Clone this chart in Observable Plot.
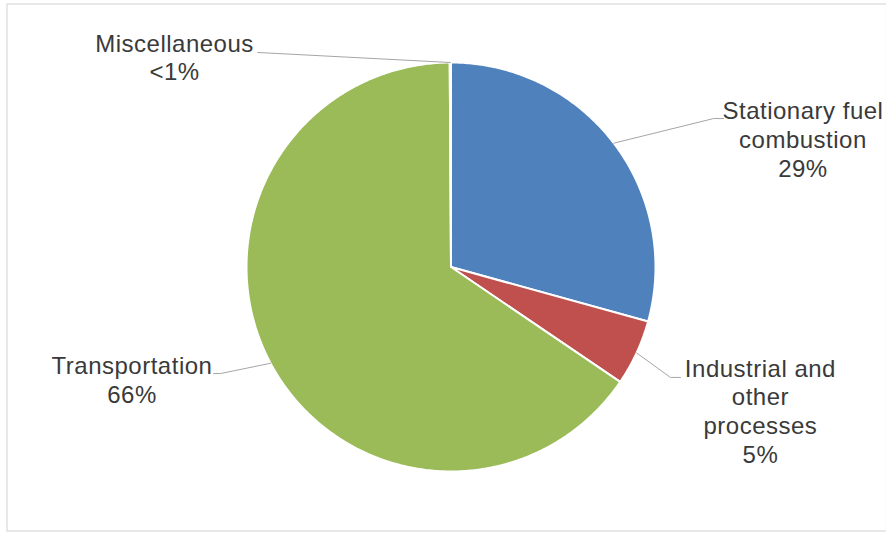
<!DOCTYPE html>
<html>
<head>
<meta charset="utf-8">
<script src="https://cdn.jsdelivr.net/npm/d3@7"></script>
<script src="https://cdn.jsdelivr.net/npm/@observablehq/plot@0.6"></script>
<style>
  html, body { margin: 0; padding: 0; background: #fff; }
  #chart { width: 886px; height: 533px; }
</style>
</head>
<body>
<div id="chart"></div>
<script>
// ---- data ----
const categories = ["Stationary fuel combustion", "Industrial and other processes", "Transportation", "Miscellaneous"];
const shares = [29.3, 5.2, 65.4, 0.1];           // percent of total
const percentLabels = ["29%", "5%", "66%", "<1%"];
const labelLines = [
  ["Stationary fuel", "combustion"],
  ["Industrial and", "other", "processes"],
  ["Transportation"],
  ["Miscellaneous"]
];
const sliceColors = ["#4F81BD", "#C0504D", "#9BBB59", "#8064A2"];

// ---- layout (unit-circle coordinates: pie radius = 1) ----
const labelAnchor = [      // centre x, baseline y of last line
  [1.721, 0.4425],
  [1.513, -0.956],
  [-1.560, -0.663],
  [-1.352, 0.912]
];
const leaderElbow = [[1.284, 0.726], [1.073, -0.540], [-1.127, -0.521], [-0.946, 1.049]];
const leaderEnd   = [[1.333, 0.726], [1.122, -0.540], [-1.161, -0.521], [-0.946, 1.049]];

// ---- geometry from data ----
const pie = d3.pie().sort(null).value(d => d.share)
  .startAngle(0).endAngle(2 * Math.PI);
const rows = categories.map((c, i) => ({category: c, share: shares[i], i}));
const arcs = pie(rows);

const slicePts = [];
for (const a of arcs) {
  const c = a.data.category;
  slicePts.push({category: c, x: 0, y: 0});
  const n = Math.max(2, Math.ceil((a.endAngle - a.startAngle) / 0.01));
  for (let k = 0; k <= n; k++) {
    const t = a.startAngle + (a.endAngle - a.startAngle) * k / n;
    slicePts.push({category: c, x: Math.sin(t), y: Math.cos(t)});
  }
}

const leaderPts = [];
for (const a of arcs) {
  const i = a.data.i, c = a.data.category;
  const m = (a.startAngle + a.endAngle) / 2;
  leaderPts.push({category: c, x: Math.sin(m), y: Math.cos(m)});
  leaderPts.push({category: c, x: leaderElbow[i][0], y: leaderElbow[i][1]});
  leaderPts.push({category: c, x: leaderEnd[i][0], y: leaderEnd[i][1]});
}

const labels = categories.map((c, i) => ({
  category: c,
  x: labelAnchor[i][0],
  y: labelAnchor[i][1],
  text: [...labelLines[i], percentLabels[i]].join("\n")
}));

const chart = Plot.plot({
  width: 886,
  height: 533,
  marginLeft: 6.5,
  marginTop: 3.5,
  marginRight: 0,
  marginBottom: 2.5,
  x: {domain: [-1, 1], range: [246, 655], axis: null},
  y: {domain: [-1, 1], range: [471, 62], axis: null},
  color: {domain: categories, range: sliceColors},
  style: {fontFamily: "'Liberation Sans', Arial, sans-serif", background: "#fff", overflow: "visible", letterSpacing: "0.5px"},
  marks: [
    Plot.frame({stroke: "#d9d9d9", strokeWidth: 1.2}),
    Plot.line(slicePts, {x: "x", y: "y", z: "category", fill: "category", stroke: "#fff", strokeWidth: 2, curve: "linear-closed"}),
    Plot.line(leaderPts, {x: "x", y: "y", z: "category", stroke: "#a6a6a6", strokeWidth: 1}),
    Plot.text(labels, {x: "x", y: "y", text: "text", fontSize: 24, fill: "#3a3a3a", textAnchor: "middle", lineAnchor: "bottom", lineHeight: 1.19})
  ]
});
document.getElementById("chart").appendChild(chart);
</script>
</body>
</html>
